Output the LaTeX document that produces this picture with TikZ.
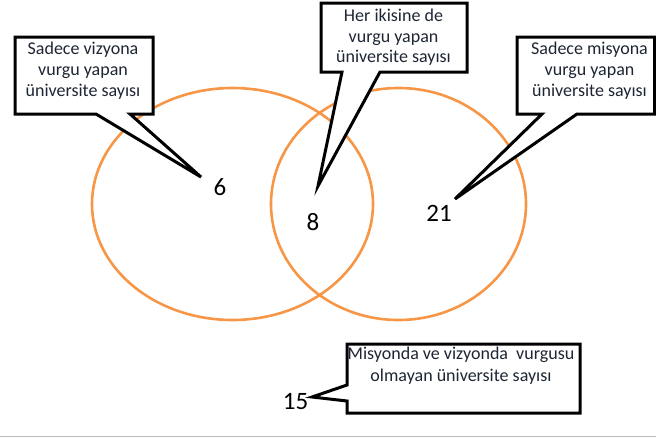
\documentclass[tikz,border=0pt]{standalone}
\usepackage{fontspec}
\setmainfont{Carlito}
\definecolor{venn}{RGB}{247,150,70}
\definecolor{calltext}{RGB}{30,38,52}
\definecolor{rule}{RGB}{185,185,185}
\tikzset{
  vennset/.style={draw=venn,line width=2.6pt},
  callout/.style={draw=black,fill=white,line width=3pt,line join=miter},
  calltxt/.style={anchor=base,inner sep=0pt,align=center,text=calltext,font=\fontsize{18}{21.2}\selectfont},
  numtxt/.style={anchor=base,inner sep=0pt,text=black,font=\fontsize{25}{30}\selectfont}
}
\begin{document}
\begin{tikzpicture}[x=1pt,y=-1pt]
\useasboundingbox (0,0) rectangle (656,437);
% Venn sets
\draw[vennset] (232.5,204) ellipse [x radius=140.5, y radius=116];
\draw[vennset] (398.5,204) ellipse [x radius=127.5, y radius=116];
% bottom rule
\draw[rule,line width=1pt] (0,436) -- (656,436);
% tips of the callouts
\coordinate (tipL) at (201,177);
\coordinate (tipM) at (318,186);
\coordinate (tipR) at (455,199);
\coordinate (tipB) at (312,397);
% callouts
\draw[callout] (15,37) -- (153,37) -- (153,114) -- (130,114) -- (tipL) -- (96,114) -- (15,114) -- cycle;
\draw[callout] (321,3) -- (467,3) -- (467,72) -- (380,72) -- (tipM) -- (342,72) -- (321,72) -- cycle;
\draw[callout] (517,37) -- (654.5,37) -- (654.5,114) -- (577,114) -- (tipR) -- (542,114) -- (517,114) -- cycle;
\draw[callout] (347,344) -- (580,344) -- (580,413) -- (347,413) -- (347,401) -- (tipB) -- (347,385) -- cycle;
% callout texts (anchor = baseline of the last line)
\node[calltxt] (txtL) at (83,96.7) {Sadece vizyona\\vurgu yapan\\üniversite sayısı};
\node[calltxt,font=\fontsize{18}{20.6}\selectfont] (txtM) at (393.5,62.8) {Her ikisine de\\vurgu yapan\\üniversite sayısı};
\node[calltxt] (txtR) at (589.5,96.7) {Sadece misyona\\vurgu yapan\\üniversite sayısı};
\node[calltxt,font=\fontsize{18}{22.4}\selectfont] (txtB) at (461,381.7) {Misyonda ve vizyonda\ \ vurgusu\\olmayan üniversite sayısı};
% numbers
\node[numtxt] (n6) at (220,195) {6};
\node[numtxt] (n8) at (313,230) {8};
\node[numtxt] (n21) at (439,221.7) {21};
\node[numtxt] (n15) at (295.5,409) {15};
\end{tikzpicture}
\end{document}
